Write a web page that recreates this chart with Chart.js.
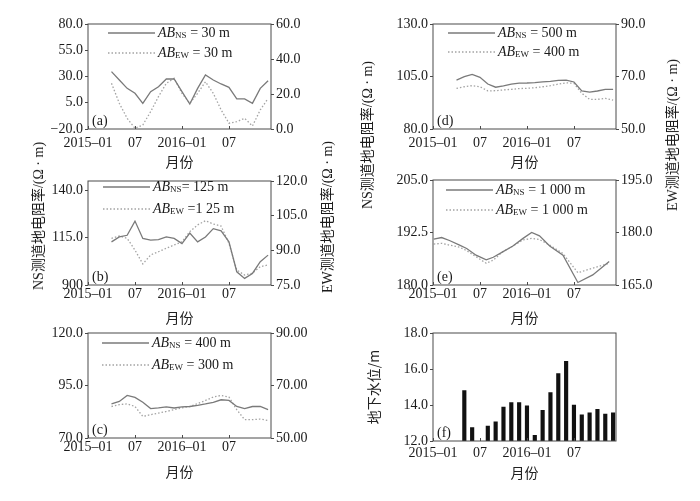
<!DOCTYPE html>
<html>
<head>
<meta charset="utf-8">
<script src="https://cdn.jsdelivr.net/npm/chart.js@4.4.0/dist/chart.umd.min.js"></script>
<style>
  body { margin: 0; background: #fff; }
  #wrap { position: relative; width: 700px; height: 501px; overflow: hidden;
          font-family: 'Liberation Serif', 'Noto Sans CJK SC', serif; color: #1a1a1a; }
  .panel { position: absolute; }
  .axis-title { position: absolute; white-space: nowrap; font-size: 14px;
                font-family: 'Liberation Serif', 'Noto Sans CJK SC', serif;
                transform: translate(-50%, -50%) rotate(-90deg); }
  .legend-row { position: absolute; display: flex; align-items: center; height: 16px;
                font-size: 14px; white-space: pre; }
  .legend-row span { margin-left: 3px; }
  .legend-row sub { font-size: 9px; vertical-align: -1px; }
</style>
</head>
<body>
<div id="wrap">
  <div class="panel" id="pa"><canvas id="ca"></canvas></div>
  <div class="panel" id="pb"><canvas id="cb"></canvas></div>
  <div class="panel" id="pc"><canvas id="cc"></canvas></div>
  <div class="panel" id="pd"><canvas id="cd"></canvas></div>
  <div class="panel" id="pe"><canvas id="ce"></canvas></div>
  <div class="panel" id="pf"><canvas id="cf"></canvas></div>

  <div class="axis-title" style="left:37px; top:216px;">NS测道地电阻率/(Ω · m)</div>
  <div class="axis-title" style="left:326px; top:217px;">EW测道地电阻率/(Ω · m)</div>
  <div class="axis-title" style="left:366px; top:135px;">NS测道地电阻率/(Ω · m)</div>
  <div class="axis-title" style="left:671px; top:135px;">EW测道地电阻率/(Ω · m)</div>
</div>
<script>
// months counted from 2015-01 (= 0) to 2016-12 (= 23)
const monthIdx = [3, 4, 5, 6, 7, 8, 9, 10, 11, 12, 13, 14, 15, 16, 17, 18, 19, 20, 21, 22, 23];
const monthIdxE = [0.1, 1.1, 2.1, 3.4, 4.3, 5.5, 6.8, 7.7, 8.9, 10.2, 11.5, 12.6, 13.6, 14.9, 16.6, 18.5, 20.4, 22.5];
const monthIdxF = [4, 5, 7, 8, 9, 10, 11, 12, 13, 14, 15, 16, 17, 18, 19, 20, 21, 22, 23];
const xTickPos = [0, 6, 12, 18];
const xTickLabels = ['2015–01', '07', '2016–01', '07'];

// (a) AB = 30 m
const nsA = [34.6, 26.7, 18.7, 14.0, 4.4, 15.6, 20.3, 27.6, 27.6, 15.6, 3.8, 18.7, 31.4, 26.7, 22.9, 19.7, 8.6, 8.6, 4.4, 18.7, 26.0];
const ewA = [26.1, 14.7, 6.1, 0.4, 2.3, 9.9, 18.5, 26.1, 29.0, 20.4, 14.7, 20.4, 27.0, 20.4, 10.9, 3.3, 4.2, 6.1, 1.7, 10.9, 17.5];
// (b) AB = 125 m
const nsB = [112.8, 115.4, 116.3, 123.8, 114.6, 113.7, 114.0, 115.4, 114.6, 111.9, 117.5, 112.8, 115.4, 119.8, 118.6, 112.8, 97.0, 93.5, 96.1, 102.3, 105.8];
const ewB = [95.2, 96.2, 95.2, 90.1, 84.1, 88.0, 89.4, 90.9, 92.3, 93.7, 98.1, 101.0, 102.8, 101.4, 100.5, 93.0, 81.5, 79.3, 80.1, 82.9, 83.7];
// (c) AB NS = 400 m, EW = 300 m
const nsC = [86.3, 87.4, 90.3, 89.3, 87.0, 84.0, 84.3, 84.8, 84.3, 84.8, 85.0, 85.5, 86.2, 87.0, 88.2, 87.9, 85.0, 84.0, 85.0, 85.0, 83.5];
const ewC = [62.0, 62.7, 63.0, 62.0, 58.2, 58.9, 59.5, 60.1, 60.8, 61.5, 62.0, 63.1, 64.3, 65.6, 66.2, 65.6, 60.8, 57.0, 57.0, 57.2, 56.7];
// (d) AB NS = 500 m, EW = 400 m
const nsD = [103.3, 104.9, 106.0, 104.6, 101.4, 99.9, 100.5, 101.4, 101.8, 101.9, 102.1, 102.4, 102.7, 103.2, 103.3, 102.4, 98.1, 97.6, 98.1, 98.9, 98.9];
const ewD = [65.5, 66.1, 66.5, 66.1, 64.5, 64.6, 64.9, 65.1, 65.4, 65.5, 65.7, 66.1, 66.5, 67.1, 67.6, 67.4, 63.6, 61.3, 61.3, 61.7, 61.0];
// (e) AB = 1 000 m
const nsE = [190.9, 191.3, 190.6, 189.5, 188.7, 187.1, 186.0, 186.6, 187.9, 189.3, 191.1, 192.5, 191.7, 189.3, 187.1, 180.6, 182.4, 185.6];
const ewE = [176.7, 176.9, 176.4, 175.8, 174.8, 173.1, 171.2, 172.1, 174.5, 176.1, 177.9, 178.3, 178.0, 176.4, 174.0, 168.5, 169.8, 171.2];
// (f) groundwater level, m
const waterLevel = [14.8, 12.75, 12.83, 13.06, 13.89, 14.13, 14.13, 13.96, 12.31, 13.7, 14.69, 15.74, 16.43, 14.0, 13.46, 13.56, 13.76, 13.5, 13.56];

// axis ticks
const nsTicksA = [-20, 5, 30, 55, 80], ewTicksA = [0, 20, 40, 60];
const nsTicksB = [90, 115, 140], ewTicksB = [75, 90, 105, 120];
const nsTickLabelsB = ['900', '115.0', '140.0'];
const nsTicksC = [70, 95, 120], ewTicksC = [50, 70, 90];
const nsTicksD = [80, 105, 130], ewTicksD = [50, 70, 90];
const nsTicksE = [180, 192.5, 205], ewTicksE = [165, 180, 195];
const levelTicks = [12, 14, 16, 18];

// legend texts
const nsLegend = [' = 30 m', '= 125 m', ' = 400 m', ' = 500 m', ' = 1 000 m'];
const ewLegend = [' = 30 m', ' =1 25 m', ' = 300 m', ' = 400 m', ' = 1 000 m'];

const NS_COLOR = '#7a7a7a';
const EW_COLOR = '#a3a3a3';
const FRAME = '#4a4a4a';

Chart.defaults.font.family = "'Liberation Serif', serif";
Chart.defaults.font.size = 14;
Chart.defaults.color = '#1a1a1a';

const fmt1 = v => (v < 0 ? '−' + (-v).toFixed(1) : v.toFixed(1));
const fmt2 = v => v.toFixed(2);

// box around the plot, inward x ticks and the panel letter
const framePlugin = {
    id: 'frameBox',
    afterDatasetsDraw(chart, args, opts) {
        const { ctx, chartArea: a } = chart;
        const xs = chart.scales.x;
        ctx.save();
        ctx.strokeStyle = FRAME;
        ctx.lineWidth = 1;
        ctx.strokeRect(a.left, a.top, a.right - a.left, a.bottom - a.top);
        xs.ticks.forEach(t => {
            const px = Math.round(xs.getPixelForValue(t.value)) + 0.5;
            ctx.beginPath();
            ctx.moveTo(px, a.bottom);
            ctx.lineTo(px, a.bottom - 3);
            ctx.stroke();
        });
        ctx.fillStyle = '#1a1a1a';
        ctx.font = "14px 'Liberation Serif'";
        ctx.textBaseline = 'bottom';
        ctx.fillText(opts.tag, a.left + 4, a.bottom - 1);
        ctx.restore();
    }
};

function yAxis(pos, min, max, ticks, labelFn, width) {
    return {
        position: pos, min: min, max: max,
        afterBuildTicks: s => { s.ticks = ticks.map(v => ({ value: v })); },
        afterFit: s => { s.width = width; },
        ticks: { autoSkip: false, padding: 2, callback: (v, i) => labelFn(v, i) },
        grid: { drawOnChartArea: false, drawTicks: true, tickLength: 3, color: FRAME },
        border: { display: false }
    };
}

function xAxis(tickPad, height) {
    return {
        type: 'linear', min: 0, max: 23.37, offset: false,
        afterBuildTicks: s => { s.ticks = xTickPos.map(v => ({ value: v })); },
        afterFit: s => { s.height = height; },
        ticks: { autoSkip: false, maxRotation: 0, padding: tickPad, callback: (v, i) => xTickLabels[i] },
        grid: { display: false, drawTicks: false },
        border: { display: false },
        title: {
            display: true, text: '月份', color: '#222',
            font: { family: "'Noto Sans CJK SC'", size: 14 },
            padding: { top: 0, bottom: 2 }
        }
    };
}

const xy = (xs, ys) => xs.map((x, i) => ({ x: x, y: ys[i] }));

const panels = [
    { id: 'a', left: 0, top: 0, h: 172, plot: [88, 271, 24, 129], tickPad: 6,
      ns: xy(monthIdx, nsA), ew: xy(monthIdx, ewA),
      y: [-20, 80, nsTicksA, fmt1], y1: [0, 60, ewTicksA, fmt1], legend: [108, 33, 20], li: 0 },
    { id: 'b', left: 0, top: 160, h: 168, plot: [88, 271, 181, 285], tickPad: 1,
      ns: xy(monthIdx, nsB), ew: xy(monthIdx, ewB),
      y: [90, 145, nsTicksB, (v, i) => nsTickLabelsB[i]], y1: [75, 120, ewTicksB, fmt1], legend: [103, 187, 22], li: 1 },
    { id: 'c', left: 0, top: 320, h: 162, plot: [88, 271, 333, 438], tickPad: 1,
      ns: xy(monthIdx, nsC), ew: xy(monthIdx, ewC),
      y: [70, 120, nsTicksC, fmt1], y1: [50, 90, ewTicksC, fmt2], legend: [102, 343, 22], li: 2 },
    { id: 'd', left: 350, top: 0, h: 172, plot: [433, 616, 24, 129], tickPad: 6,
      ns: xy(monthIdx, nsD), ew: xy(monthIdx, ewD),
      y: [80, 130, nsTicksD, fmt1], y1: [50, 90, ewTicksD, fmt1], legend: [448, 33, 19], li: 3 },
    { id: 'e', left: 350, top: 160, h: 168, plot: [433, 616, 180, 285], tickPad: 1,
      ns: xy(monthIdxE, nsE), ew: xy(monthIdxE, ewE),
      y: [180, 205, nsTicksE, fmt1], y1: [165, 195, ewTicksE, fmt1], legend: [446, 190, 20], li: 4 }
];

const wrap = document.getElementById('wrap');

function placePanel(id, left, top, h) {
    const el = document.getElementById('p' + id);
    el.style.left = left + 'px';
    el.style.top = top + 'px';
    el.style.width = '350px';
    el.style.height = h + 'px';
}

function addLegend(p) {
    const rows = [['NS', nsLegend[p.li], NS_COLOR, ''], ['EW', ewLegend[p.li], EW_COLOR, 'stroke-dasharray="1.5 2"']];
    rows.forEach(([sub, tail, color, dash], i) => {
        const row = document.createElement('div');
        row.className = 'legend-row';
        row.style.left = p.legend[0] + 'px';
        row.style.top = (p.legend[1] + i * p.legend[2] - 8) + 'px';
        row.innerHTML = '<svg width="47" height="4"><line x1="0" y1="2" x2="47" y2="2" stroke="' + color +
            '" stroke-width="1.3" ' + dash + '/></svg><span><i>AB</i><sub>' + sub + '</sub>' + tail + '</span>';
        wrap.appendChild(row);
    });
}

panels.forEach(p => {
    placePanel(p.id, p.left, p.top, p.h);
    const [x0, x1, y0, y1] = p.plot;
    new Chart(document.getElementById('c' + p.id), {
        type: 'line',
        data: {
            datasets: [
                { label: 'NS', data: p.ns, yAxisID: 'y', borderColor: NS_COLOR, borderWidth: 1.3, pointRadius: 0, fill: false },
                { label: 'EW', data: p.ew, yAxisID: 'y1', borderColor: EW_COLOR, borderWidth: 1.3, borderDash: [1.5, 2], pointRadius: 0, fill: false }
            ]
        },
        options: {
            responsive: true,
            maintainAspectRatio: false,
            animation: false,
            layout: { padding: { top: y0 - p.top, left: 0, right: 0, bottom: 0 } },
            plugins: { legend: { display: false }, tooltip: { enabled: false }, frameBox: { tag: '(' + p.id + ')' } },
            scales: {
                x: xAxis(p.tickPad, p.top + p.h - y1),
                y: yAxis('left', p.y[0], p.y[1], p.y[2], p.y[3], x0 - p.left),
                y1: yAxis('right', p.y1[0], p.y1[1], p.y1[2], p.y1[3], p.left + 350 - x1)
            }
        },
        plugins: [framePlugin]
    });
    addLegend(p);
});

// (f) groundwater level bars
placePanel('f', 350, 320, 163);
const fAxisY = yAxis('left', 12, 18, levelTicks, fmt1, 83);
fAxisY.title = {
    display: true, text: '地下水位/m', color: '#222',
    font: { family: "'Noto Sans CJK SC'", size: 14 },
    padding: { top: 15, bottom: 0 }
};
new Chart(document.getElementById('cf'), {
    type: 'bar',
    data: {
        datasets: [{ label: '地下水位', data: xy(monthIdxF, waterLevel), backgroundColor: '#111', barThickness: 3.5 }]
    },
    options: {
        responsive: true,
        maintainAspectRatio: false,
        animation: false,
        layout: { padding: { top: 13, left: 0, right: 84, bottom: 0 } },
        plugins: { legend: { display: false }, tooltip: { enabled: false }, frameBox: { tag: '(f)' } },
        scales: {
            x: xAxis(4, 483 - 441),
            y: fAxisY
        }
    },
    plugins: [framePlugin]
});
</script>
</body>
</html>
